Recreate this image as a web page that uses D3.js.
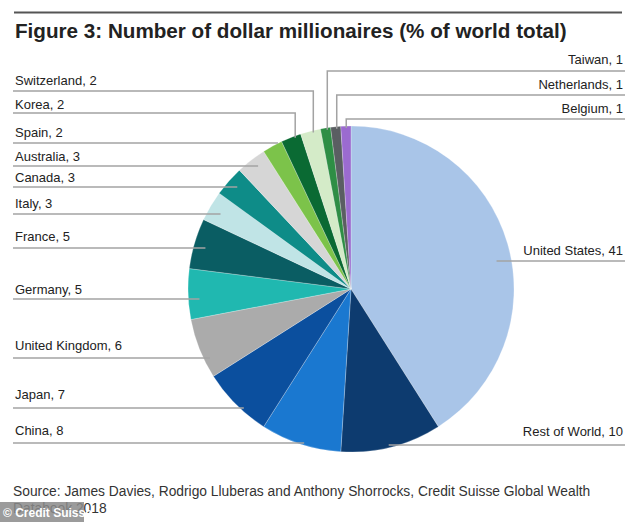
<!DOCTYPE html>
<html><head><meta charset="utf-8">
<script src="https://cdn.jsdelivr.net/npm/d3@7"></script>
<style>
html,body{margin:0;padding:0;background:#fff;}
svg{display:block;font-family:"Liberation Sans",Arial,sans-serif;}
</style></head>
<body>
<svg id="c" width="634" height="522"></svg>
<script>
// ---- data ----
const countries = ["United States","Rest of World","China","Japan","United Kingdom","Germany","France","Italy","Canada","Australia","Spain","Korea","Switzerland","Taiwan","Netherlands","Belgium"];
const shares    = [41,10,8,7,6,5,5,3,3,3,2,2,2,1,1,1];
const colors    = ["#a9c5e8","#0d3b6f","#1a78d0","#0b4f9e","#ababab","#20b8b0","#0a5d63","#c0e4e6","#0e8c88","#d6d6d6","#7cc34a","#0a6a33","#d4ebc8","#2e8e45","#5a5e62","#9b6bd0"];
// label layout: side, text baseline, leader line y
const labelSide = ["right","right","left","left","left","left","left","left","left","left","left","left","left","right","right","right"];
const labelY    = [255,436,435,399,350,294,241,208,182,161,137,109,85,64,89,113];
const lineY     = [261,445,443,408,358,299,248,214,187,166,143,113,91,71,95,119];

const title = "Figure 3: Number of dollar millionaires (% of world total)";
const sourceLines = ["Source: James Davies, Rodrigo Lluberas and Anthony Shorrocks, Credit Suisse Global Wealth","Databook 2018"];

const svg = d3.select("#c");
const cx = 351, cy = 289, r = 163;

// top rule
svg.append("line").attr("x1",14).attr("x2",622).attr("y1",12.5).attr("y2",12.5)
  .attr("stroke","#555").attr("stroke-width",2);

// title
const t = svg.append("text").attr("x",15).attr("y",38)
  .attr("font-size",19.5).attr("font-weight","bold").attr("fill","#222").text(title);
const tw = t.node().getComputedTextLength();
t.attr("font-size", 19.5 * 552 / tw);

const data = countries.map((c,i)=>({name:c,value:shares[i],color:colors[i],side:labelSide[i],ly:labelY[i],lineY:lineY[i]}));
const pie = d3.pie().sort(null).value(d=>d.value);
const arcs = pie(data);
const arc = d3.arc().innerRadius(0).outerRadius(r);

const g = svg.append("g").attr("transform",`translate(${cx},${cy})`);
g.selectAll("path").data(arcs).join("path")
  .attr("d",arc).attr("fill",d=>d.data.color)
  .attr("stroke","#fff").attr("stroke-width",0.4).attr("stroke-opacity",0.6);

// leader lines
arcs.forEach(a=>{
  const mid = (a.startAngle+a.endAngle)/2;
  const xe = cx + 0.93*r*Math.sin(mid);
  const ly = a.data.lineY;
  const x0 = a.data.side==="left" ? 13 : 625;
  const dx = xe - cx;
  const edgeTop = cy - Math.sqrt(Math.max(0,r*r-dx*dx));
  const pts = [[x0,ly],[xe,ly]];
  if (ly < edgeTop - 3) pts.push([xe, edgeTop + 2]);
  svg.append("path").attr("d", d3.line()(pts))
    .attr("fill","none").attr("stroke","#a3a3a3").attr("stroke-width",1.5);
  svg.append("text")
    .attr("x", a.data.side==="left" ? 15 : 623)
    .attr("y", a.data.ly)
    .attr("text-anchor", a.data.side==="left" ? "start" : "end")
    .attr("font-size",13).attr("fill","#222")
    .text(`${a.data.name}, ${a.data.value}`);
});

// source
const s0 = svg.append("text").attr("x",13).attr("y",496).attr("font-size",13).attr("fill","#333").text(sourceLines[0]);
const sfs = 13 * 578 / s0.node().getComputedTextLength();
s0.attr("font-size", sfs);
svg.append("text").attr("x",13).attr("y",513).attr("font-size",sfs).attr("fill","#333").text(sourceLines[1]);

// watermark
svg.append("rect").attr("x",0).attr("y",502).attr("width",84).attr("height",20)
  .attr("fill","#8a8a8a").attr("fill-opacity",0.85);
svg.append("text").attr("x",3).attr("y",517).attr("font-size",12).attr("font-weight","bold")
  .attr("fill","#fff").text("© Credit Suisse");
</script>
</body></html>
